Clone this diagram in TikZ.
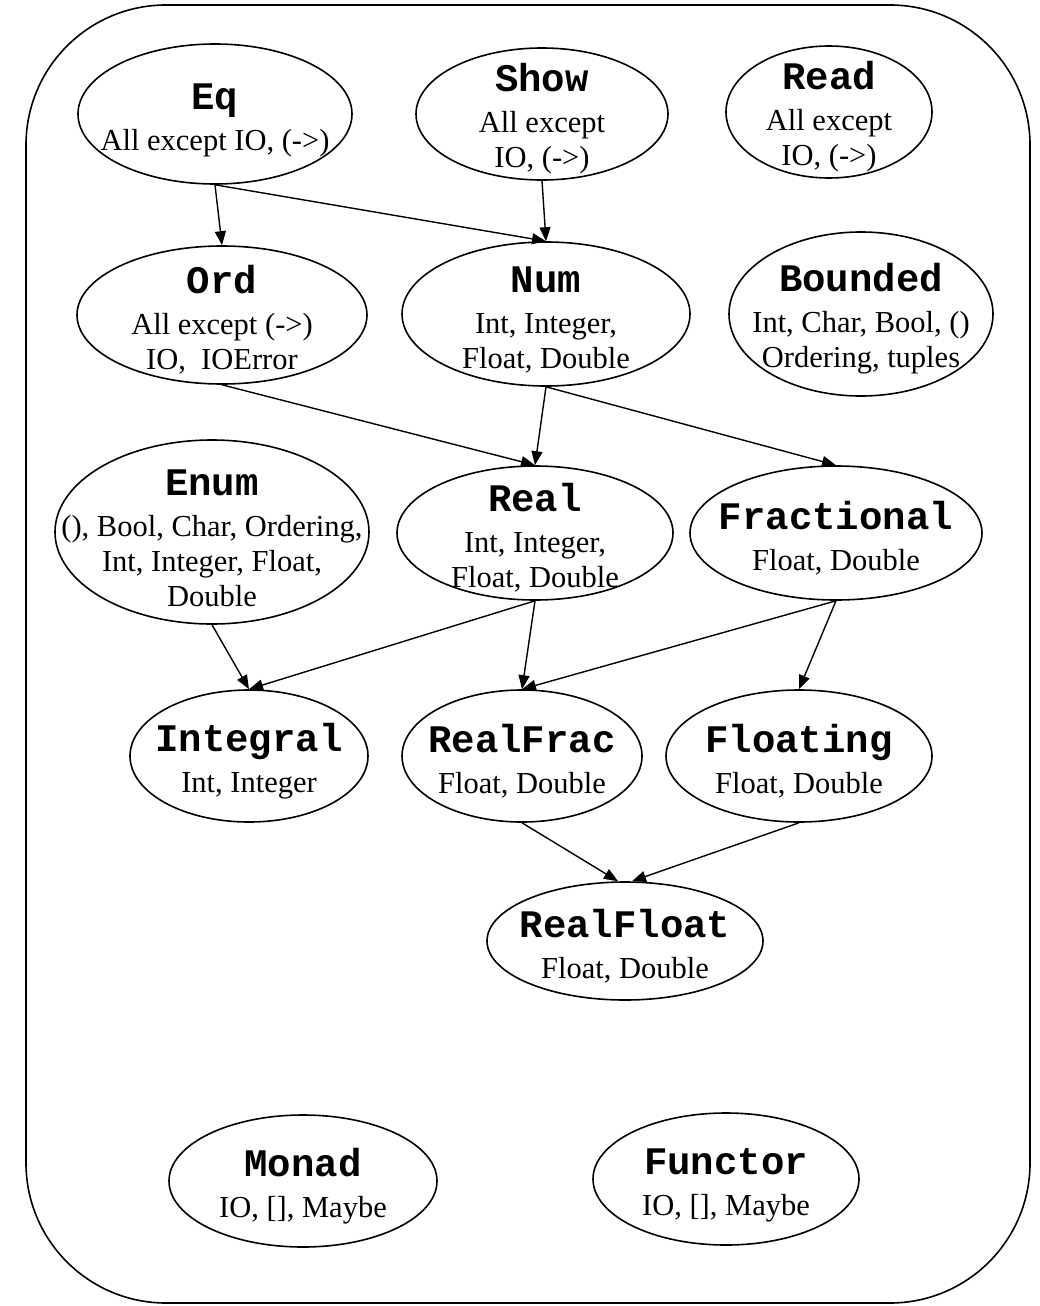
\documentclass[tikz,border=0pt]{standalone}
\usepackage{fontspec}
\setmainfont{Liberation Serif}
\newfontfamily\codefont{Liberation Mono}
\usetikzlibrary{arrows.meta,shapes.geometric}
\newcommand{\cls}[1]{\rule{0pt}{38pt}{\fontsize{39}{40}\selectfont\codefont\bfseries #1}}

\begin{document}
\begin{tikzpicture}[x=1pt,y=-1pt,line width=1.6pt,
    cls/.style={draw,ellipse,inner sep=-200pt,align=center,
      font=\fontsize{30.5}{35}\selectfont},
    sub/.style={-{Triangle[length=14pt,width=11pt]},line width=1.4pt}]
  \useasboundingbox (0,0) rectangle (1040,1306);
  \draw[rounded corners=140pt] (26,5) rectangle (1030,1303);

  \node[cls,minimum width=274pt,minimum height=140pt] (Eq) at (215,114)
    {\cls{Eq}\\[6pt] All except IO, (->)};
  \node[cls,minimum width=252pt,minimum height=132pt] (Show) at (542,114)
    {\cls{Show}\\[6pt] All except\\ IO, (->)};
  \node[cls,minimum width=206pt,minimum height=132pt] (Read) at (829,112)
    {\cls{Read}\\[6pt] All except\\ IO, (->)};

  \node[cls,minimum width=290pt,minimum height=138pt] (Ord) at (222,315)
    {\cls{Ord}\\[6pt] All except (->)\\ IO,~ IOError};
  \node[cls,minimum width=288pt,minimum height=144pt] (Num) at (546,314)
    {\cls{Num}\\[6pt] Int, Integer,\\ Float, Double};
  \node[cls,minimum width=264pt,minimum height=164pt] (Bounded) at (861,314)
    {\cls{Bounded}\\[6pt] Int, Char, Bool, ()\\ Ordering, tuples};

  \node[cls,minimum width=314pt,minimum height=184pt] (Enum) at (212,532)
    {\cls{Enum}\\[6pt] (), Bool, Char, Ordering,\\ Int, Integer, Float,\\ Double};
  \node[cls,minimum width=276pt,minimum height=134pt] (Real) at (535,533)
    {\cls{Real}\\[6pt] Int, Integer,\\ Float, Double};
  \node[cls,minimum width=292pt,minimum height=134pt] (Fractional) at (836,533)
    {\cls{Fractional}\\[6pt] Float, Double};

  \node[cls,minimum width=238pt,minimum height=132pt] (Integral) at (249,756)
    {\cls{Integral}\\[6pt] Int, Integer};
  \node[cls,minimum width=240pt,minimum height=132pt] (RealFrac) at (522,756)
    {\cls{RealFrac}\\[6pt] Float, Double};
  \node[cls,minimum width=266pt,minimum height=132pt] (Floating) at (799,756)
    {\cls{Floating}\\[6pt] Float, Double};

  \node[cls,minimum width=276pt,minimum height=118pt] (RealFloat) at (625,941)
    {\cls{RealFloat}\\[6pt] Float, Double};

  \node[cls,minimum width=268pt,minimum height=132pt] (Monad) at (303,1181)
    {\cls{Monad}\\[6pt] IO, [], Maybe};
  \node[cls,minimum width=266pt,minimum height=132pt] (Functor) at (726,1179)
    {\cls{Functor}\\[6pt] IO, [], Maybe};

  % superclass arrows
  \draw[sub] (Eq.south) -- (Ord.north);
  \draw[sub] (Eq.south) -- (Num.north);
  \draw[sub] (Show.south) -- (Num.north);
  \draw[sub] (Ord.south) -- (Real.north);
  \draw[sub] (Num.south) -- (Real.north);
  \draw[sub] (Num.south) -- (Fractional.north);
  \draw[sub] (Enum.south) -- (Integral.north);
  \draw[sub] (Real.south) -- (Integral.north);
  \draw[sub] (Real.south) -- (RealFrac.north);
  \draw[sub] (Fractional.south) -- (RealFrac.north);
  \draw[sub] (Fractional.south) -- (Floating.north);
  \draw[sub] (RealFrac.south) -- ([xshift=-7pt]RealFloat.north);
  \draw[sub] (Floating.south) -- ([xshift=7pt]RealFloat.north);
\end{tikzpicture}
\end{document}
